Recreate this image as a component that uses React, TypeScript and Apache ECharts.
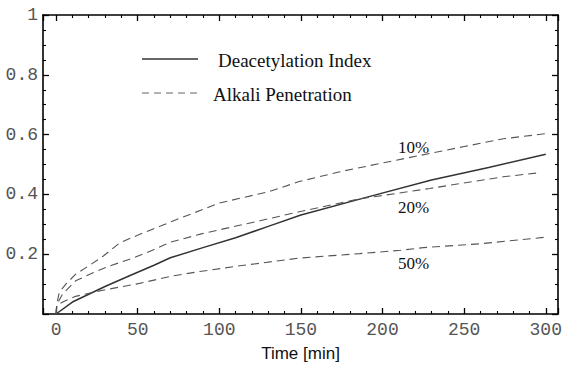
import React, { useEffect, useRef } from "react";
import * as echarts from "echarts";

// Deacetylation Index (solid)
const deacTime = [0, 10, 20, 30, 45, 60, 70, 90, 110, 130, 150, 190, 230, 265, 300];
const deacIndex = [0, 0.04, 0.066, 0.092, 0.128, 0.163, 0.188, 0.222, 0.255, 0.293, 0.331, 0.39, 0.448, 0.49, 0.534];

// Alkali penetration, 10 %
const alk10Time = [0, 0.5, 2, 6, 12, 20, 29, 39, 51, 64, 72, 100, 131, 149, 174, 200, 229, 250, 274, 300];
const alk10 = [0, 0.035, 0.073, 0.1, 0.133, 0.161, 0.194, 0.238, 0.266, 0.294, 0.312, 0.371, 0.41, 0.443, 0.476, 0.505, 0.537, 0.56, 0.586, 0.603];

// Alkali penetration, 20 %
const alk20Time = [0, 0.5, 4, 12, 23, 33, 45, 59, 70, 89, 125, 149, 186, 229, 274, 297];
const alk20 = [0, 0.032, 0.067, 0.111, 0.139, 0.161, 0.183, 0.213, 0.24, 0.268, 0.312, 0.342, 0.385, 0.42, 0.459, 0.473];

// Alkali penetration, 50 %
const alk50Time = [0, 0.5, 6, 12, 23, 33, 49, 72, 88, 111, 149, 186, 211, 225, 260, 300];
const alk50 = [0, 0.03, 0.045, 0.059, 0.073, 0.084, 0.1, 0.128, 0.142, 0.16, 0.187, 0.202, 0.213, 0.222, 0.235, 0.257];

const legendLabels = ["Deacetylation Index", "Alkali Penetration"];
const curveLabels = ["10%", "20%", "50%"];
const xAxisTitle = "Time [min]";

const pairs = (xs: number[], ys: number[]) => xs.map((x, i) => [x, ys[i]]);

export default function App() {
  const ref = useRef<HTMLDivElement>(null);
  useEffect(() => {
    const chart = echarts.init(ref.current!, null, { renderer: "svg" });
    const axisLine = { show: true, onZero: false, lineStyle: { color: "#000", width: 1.6 } };
    const axisTick = { show: true, inside: true, length: 6, lineStyle: { color: "#000", width: 1.3 } };
    const minorTickX = { show: true, splitNumber: 5, length: 3, lineStyle: { color: "#000", width: 1.1 } };
    const minorTickY = { show: true, splitNumber: 4, length: 3, lineStyle: { color: "#000", width: 1.1 } };
    const labelFont = { fontFamily: "Liberation Mono", fontSize: 18, color: "#555" };
    const serif = '"Liberation Serif", "Times New Roman", serif';

    const dashed = { color: "#555", width: 1.1, type: [8, 5] as number[] };

    chart.setOption({
      animation: false,
      backgroundColor: "#fff",
      grid: { left: 43, right: 9, top: 15, bottom: 50, containLabel: false },
      xAxis: [
        {
          type: "value", position: "bottom", min: -8, max: 307.5, minInterval: 50, maxInterval: 50,
          axisLine, axisTick, minorTick: minorTickX, splitLine: { show: false }, minorSplitLine: { show: false },
          axisLabel: { ...labelFont, margin: 7, showMinLabel: false, showMaxLabel: false },
          name: xAxisTitle, nameLocation: "middle", nameGap: 31,
          nameTextStyle: { fontFamily: "Liberation Sans", fontSize: 17, color: "#111" },
        },
        {
          type: "value", position: "top", min: -8, max: 307.5, minInterval: 50, maxInterval: 50,
          axisLine, axisTick, minorTick: minorTickX, splitLine: { show: false },
          axisLabel: { show: false },
        },
      ],
      yAxis: [
        {
          type: "value", position: "left", min: 0, max: 1, interval: 0.2,
          axisLine, axisTick, minorTick: minorTickY, splitLine: { show: false },
          axisLabel: { ...labelFont, margin: 5, showMinLabel: false },
        },
        {
          type: "value", position: "right", min: 0, max: 1, interval: 0.2,
          axisLine, axisTick, minorTick: minorTickY, splitLine: { show: false },
          axisLabel: { show: false },
        },
      ],
      series: [
        {
          type: "line", name: legendLabels[0], data: pairs(deacTime, deacIndex), showSymbol: false, symbol: "none",
          lineStyle: { color: "#333", width: 1.5 }, z: 3,
        },
        {
          type: "line", name: curveLabels[0], data: pairs(alk10Time, alk10), showSymbol: false, symbol: "none",
          lineStyle: dashed,
        },
        {
          type: "line", name: curveLabels[1], data: pairs(alk20Time, alk20), showSymbol: false, symbol: "none",
          lineStyle: dashed,
        },
        {
          type: "line", name: curveLabels[2], data: pairs(alk50Time, alk50), showSymbol: false, symbol: "none",
          lineStyle: dashed,
        },
      ],
      graphic: [
        { type: "line", shape: { x1: 142, y1: 59, x2: 198, y2: 59 }, style: { stroke: "#333", lineWidth: 1.4 } },
        {
          type: "text", x: 218, y: 60,
          style: { text: legendLabels[0], font: `19px ${serif}`, fill: "#111", verticalAlign: "middle" },
        },
        {
          type: "line", shape: { x1: 142, y1: 93, x2: 198, y2: 93 },
          style: { stroke: "#666", lineWidth: 1.1, lineDash: [7, 5] },
        },
        {
          type: "text", x: 213, y: 94,
          style: { text: legendLabels[1], font: `19px ${serif}`, fill: "#111", verticalAlign: "middle" },
        },
        {
          type: "text", x: 398, y: 147,
          style: { text: curveLabels[0], font: `17px ${serif}`, fill: "#111", verticalAlign: "middle" },
        },
        {
          type: "text", x: 398, y: 207,
          style: { text: curveLabels[1], font: `17px ${serif}`, fill: "#111", verticalAlign: "middle" },
        },
        {
          type: "text", x: 398, y: 263.5,
          style: { text: curveLabels[2], font: `17px ${serif}`, fill: "#111", verticalAlign: "middle" },
        },
      ],
    });
    return () => chart.dispose();
  }, []);
  return <div ref={ref} style={{ position: "absolute", left: 0, top: 0, width: 567, height: 367 }} />;
}
